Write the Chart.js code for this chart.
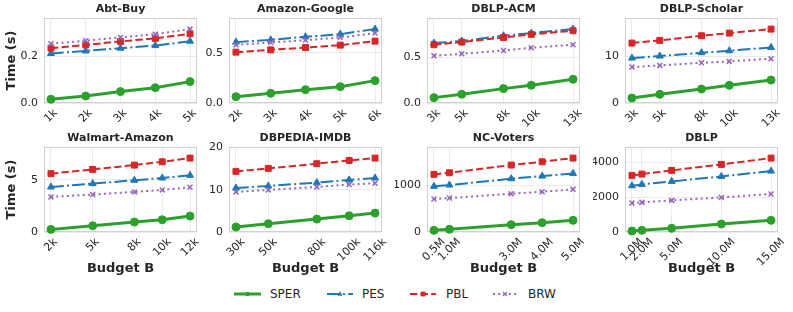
<!DOCTYPE html>
<html><head><meta charset="utf-8">
<script src="https://cdn.jsdelivr.net/npm/chart.js@4.4.0/dist/chart.umd.min.js"></script>
<style>
html,body{margin:0;padding:0;background:#fff;}
body{width:793px;height:312px;position:relative;overflow:hidden;font-family:"DejaVu Sans";}
canvas{position:absolute;}
#legend{position:absolute;left:0;top:280px;}
</style></head><body>
<svg id="legend" width="793" height="30" xmlns="http://www.w3.org/2000/svg"></svg>
<script>
const panels = ["Abt-Buy","Amazon-Google","DBLP-ACM","DBLP-Scholar","Walmart-Amazon","DBPEDIA-IMDB","NC-Voters","DBLP"];
const budgets = [
 [1000,2000,3000,4000,5000],
 [2000,3000,4000,5000,6000],
 [3000,5000,8000,10000,13000],
 [3000,5000,8000,10000,13000],
 [2000,5000,8000,10000,12000],
 [30000,50000,80000,100000,116000],
 [500000,1000000,3000000,4000000,5000000],
 [1000000,2000000,5000000,10000000,15000000]];
const budgetLabels = [
 ["1k","2k","3k","4k","5k"],
 ["2k","3k","4k","5k","6k"],
 ["3k","5k","8k","10k","13k"],
 ["3k","5k","8k","10k","13k"],
 ["2k","5k","8k","10k","12k"],
 ["30k","50k","80k","100k","116k"],
 ["0.5M","1.0M","3.0M","4.0M","5.0M"],
 ["1.0M","2.0M","5.0M","10.0M","15.0M"]];
const SPER = [
 [0.016,0.030,0.049,0.066,0.092],
 [0.063,0.097,0.133,0.163,0.223],
 [0.059,0.096,0.158,0.195,0.261],
 [1.07,1.86,3.0,3.79,4.93],
 [0.25,0.6,0.95,1.17,1.52],
 [1.18,1.96,3.06,3.84,4.47],
 [35,57,156,199,248],
 [57,96,211,459,670]];
const PES = [
 [0.213,0.224,0.236,0.247,0.266],
 [0.607,0.63,0.66,0.687,0.737],
 [0.658,0.68,0.739,0.768,0.812],
 [9.64,10.07,10.79,11.21,11.93],
 [4.30,4.62,4.94,5.16,5.41],
 [10.43,10.9,11.69,12.31,12.78],
 [972,1000,1135,1191,1248],
 [2660,2737,2909,3196,3502]];
const PBL = [
 [0.236,0.250,0.265,0.278,0.298],
 [0.507,0.53,0.553,0.577,0.617],
 [0.64,0.669,0.72,0.754,0.794],
 [12.86,13.43,14.43,15.0,15.86],
 [5.57,5.98,6.39,6.71,7.06],
 [14.35,15.06,16.16,16.94,17.49],
 [1227,1262,1426,1496,1574],
 [3254,3330,3541,3885,4249]];
const BRW = [
 [0.255,0.268,0.282,0.296,0.318],
 [0.58,0.603,0.627,0.653,0.697],
 [0.518,0.54,0.577,0.607,0.64],
 [7.71,8.07,8.64,8.93,9.5],
 [3.35,3.58,3.83,4.02,4.27],
 [9.49,9.96,10.67,11.22,11.53],
 [702,723,816,858,908],
 [1665,1703,1818,1990,2182]];
const yTicks = [[0,0.2],[0,0.5],[0,0.5],[0,10],[0,5],[0,10,20],[0,1000],[0,2000,4000]];
const yTickLabels = [["0.0","0.2"],["0.0","0.5"],["0.0","0.5"],["0","10"],["0","5"],["0","10","20"],["0","1000"],["0","2000","4000"]];
const seriesNames = ["SPER","PES","PBL","BRW"];

const FONT = '"DejaVu Sans"';
const TXT = '#262626';
const styles = {
  SPER:{color:'#2ca02c', width:3, dash:[], point:'circle', r:4},
  PES:{color:'#1f77b4', width:2, dash:[12.8,3.2,2,3.2], point:'triangle', r:4},
  PBL:{color:'#d62728', width:2, dash:[7.4,3.2], point:'rect', r:4.2},
  BRW:{color:'#9467bd', width:2, dash:[2,3.3], point:'crossRot', r:3.5}
};
const seriesData = {SPER, PES, PBL, BRW};

const colLeft = [44,229,427,625];
const rowTop = [18,147];
const plotW = 153, plotH = 85;
const titleH = 18, padR = 8;

const framePlugin = {
  id:'frame',
  beforeDatasetsDraw(chart){
    const a = chart.chartArea, c = chart.ctx;
    c.save(); c.strokeStyle = '#d0d0d0'; c.lineWidth = 1;
    c.strokeRect(Math.round(a.left)+0.5, Math.round(a.top)+0.5, Math.round(a.right-a.left)-1, Math.round(a.bottom-a.top)-1);
    c.restore();
  },
  afterDraw(chart){
    const a = chart.chartArea, c = chart.ctx, o = chart.options.plugins.frame;
    c.save();
    c.fillStyle = TXT;
    // panel title
    c.font = 'bold 11px ' + FONT;
    c.textAlign = 'center'; c.textBaseline = 'middle';
    c.fillText(o.title, (a.left + a.right) / 2, a.top - 9);
    // rotated x tick labels, centred under each tick (matplotlib style)
    c.font = '11px ' + FONT;
    const sx = chart.scales.x;
    o.xvals.forEach((v, k) => {
      const lbl = o.xlabels[k];
      const w = c.measureText(lbl).width, h = 9;
      const x = sx.getPixelForValue(v);
      const y = a.bottom + 5 + (w + h) * Math.SQRT1_2 / 2;
      c.save();
      c.translate(x, y); c.rotate(-Math.PI / 4);
      c.textAlign = 'center'; c.textBaseline = 'middle';
      c.fillText(lbl, 0, 0);
      c.restore();
    });
    c.restore();
  }
};

panels.forEach((name, i) => {
  const row = Math.floor(i/4), col = i % 4;
  const yw = col === 0 ? 44 : 32;
  const xh = row === 0 ? 30 : 44;
  const cv = document.createElement('canvas');
  const W = yw + plotW + padR, H = titleH + plotH + xh;
  cv.width = W; cv.height = H;
  cv.style.left = (colLeft[col] - yw) + 'px';
  cv.style.top = (rowTop[row] - titleH) + 'px';
  cv.style.width = W + 'px'; cv.style.height = H + 'px';
  document.body.appendChild(cv);

  const xs = budgets[i];
  const xr = xs[xs.length-1] - xs[0];
  let ymaxData = 0;
  seriesNames.forEach(s => seriesData[s][i].forEach(v => { if (v > ymaxData) ymaxData = v; }));

  const datasets = seriesNames.map(s => {
    const st = styles[s];
    return {
      label: s,
      data: xs.map((b, j) => ({x: b, y: seriesData[s][i][j]})),
      borderColor: st.color, backgroundColor: st.color,
      pointBackgroundColor: st.color, pointBorderColor: st.color,
      borderWidth: st.width, borderDash: st.dash,
      pointStyle: st.point, pointRadius: st.r, pointBorderWidth: s === 'BRW' ? 1.5 : 1,
      tension: 0, clip: 10
    };
  }).reverse();

  new Chart(cv, {
    type: 'line',
    data: {datasets},
    plugins: [framePlugin],
    options: {
      responsive: false, animation: false, devicePixelRatio: 1,
      layout: {padding: {left: 0, right: padR, top: titleH, bottom: 0}},
      plugins: {
        legend: {display: false}, tooltip: {enabled: false}, title: {display: false},
        frame: {title: name, xvals: xs, xlabels: budgetLabels[i]}
      },
      scales: {
        x: {
          type: 'linear',
          min: xs[0] - 0.05*xr, max: xs[xs.length-1] + 0.05*xr,
          afterBuildTicks: (sc) => { sc.ticks = xs.map(v => ({value: v})); },
          afterFit: (sc) => { sc.height = xh; },
          grid: {color: '#ebebeb', lineWidth: 1, drawTicks: false},
          border: {display: false},
          ticks: {display: false, autoSkip: false},
          title: {display: row === 1, text: 'Budget B', color: TXT,
            font: {family: FONT, size: 13, weight: 'bold', lineHeight: 1.2}, padding: {top: 0, bottom: 0}}
        },
        y: {
          type: 'linear', min: 0, max: ymaxData * 1.15,
          afterBuildTicks: (sc) => { sc.ticks = yTicks[i].map(v => ({value: v})); },
          afterFit: (sc) => { sc.width = yw; },
          grid: {color: '#ebebeb', lineWidth: 1, drawTicks: false},
          border: {display: false},
          ticks: {
            autoSkip: false, padding: 6, color: TXT, font: {family: FONT, size: 11},
            callback: (v, k) => yTickLabels[i][k]
          },
          title: {display: col === 0, text: 'Time (s)', color: TXT,
            font: {family: FONT, size: 13, weight: 'bold', lineHeight: 1.2}, padding: {top: 4, bottom: 0}}
        }
      }
    }
  });
});

// legend
const svg = document.getElementById('legend');
const NS = 'http://www.w3.org/2000/svg';
const legendPos = [[234,261,270],[327,353,362],[410,436,446],[493,517,528]];
const ly = 14;
seriesNames.forEach((s, k) => {
  const st = styles[s];
  const [x1, x2, tx] = legendPos[k];
  const ln = document.createElementNS(NS, 'line');
  ln.setAttribute('x1', x1); ln.setAttribute('x2', x2);
  ln.setAttribute('y1', ly); ln.setAttribute('y2', ly);
  ln.setAttribute('stroke', st.color); ln.setAttribute('stroke-width', st.width);
  if (st.dash.length) ln.setAttribute('stroke-dasharray', st.dash.join(' '));
  svg.appendChild(ln);
  const cx = (x1 + x2) / 2;
  let m;
  if (s === 'SPER') { m = document.createElementNS(NS, 'circle'); m.setAttribute('cx', cx); m.setAttribute('cy', ly); m.setAttribute('r', 2.2); m.setAttribute('fill', st.color); }
  else if (s === 'PES') { m = document.createElementNS(NS, 'polygon'); m.setAttribute('points', `${cx},${ly-2.8} ${cx-2.6},${ly+1.8} ${cx+2.6},${ly+1.8}`); m.setAttribute('fill', st.color); }
  else if (s === 'PBL') { m = document.createElementNS(NS, 'rect'); m.setAttribute('x', cx-2.4); m.setAttribute('y', ly-2.4); m.setAttribute('width', 4.8); m.setAttribute('height', 4.8); m.setAttribute('fill', st.color); }
  else { m = document.createElementNS(NS, 'path'); m.setAttribute('d', `M${cx-2},${ly-2}L${cx+2},${ly+2}M${cx-2},${ly+2}L${cx+2},${ly-2}`); m.setAttribute('stroke', st.color); m.setAttribute('stroke-width', 1.2); }
  svg.appendChild(m);
  const t = document.createElementNS(NS, 'text');
  t.setAttribute('x', tx); t.setAttribute('y', ly); t.setAttribute('dominant-baseline', 'central');
  t.setAttribute('font-family', 'DejaVu Sans'); t.setAttribute('font-size', '12'); t.setAttribute('fill', TXT);
  t.textContent = s;
  svg.appendChild(t);
});
</script>
</body></html>
